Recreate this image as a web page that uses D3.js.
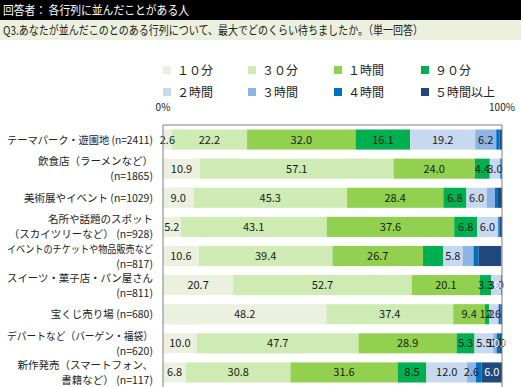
<!DOCTYPE html>
<html><head><meta charset="utf-8">
<script src="https://cdn.jsdelivr.net/npm/d3@7"></script>
<style>
body{margin:0;background:#fff;}
text{font-family:"Noto Sans CJK JP","Noto Sans",sans-serif;}
</style></head>
<body><svg id="c" width="521" height="387"></svg>
<script>
const title = "回答者： 各行列に並んだことがある人";
const subtitle = "Q3.あなたが並んだこのとのある行列について、最大でどのくらい待ちましたか。（単一回答）";
const categories = [
  ["テーマパーク・遊園地 (n=2411)"],
  ["飲食店（ラーメンなど）","(n=1865)"],
  ["美術展やイベント (n=1029)"],
  ["名所や話題のスポット","（スカイツリーなど） (n=928)"],
  ["イベントのチケットや物品販売など","(n=817)"],
  ["スイーツ・菓子店・パン屋さん","(n=811)"],
  ["宝くじ売り場 (n=680)"],
  ["デパートなど（バーゲン・福袋）","(n=620)"],
  ["新作発売（スマートフォン、","書籍など） (n=117)"]
];
const seriesNames = ["１０分","３０分","１時間","９０分","２時間","３時間","４時間","５時間以上"];
const m10  = [2.6, 10.9, 9.0, 5.2, 10.6, 20.7, 48.2, 10.0, 6.8];
const m30  = [22.2, 57.1, 45.3, 43.1, 39.4, 52.7, 37.4, 47.7, 30.8];
const h1   = [32.0, 24.0, 28.4, 37.6, 26.7, 20.1, 9.4, 28.9, 31.6];
const m90  = [16.1, 4.4, 6.8, 6.8, 5.9, 3.3, 1.2, 5.3, 8.5];
const h2   = [19.2, 3.0, 6.0, 6.0, 5.8, 3.0, 2.6, 5.5, 12.0];
const h3   = [6.2, 0.1, 2.4, 0.2, 3.2, 0.0, 0.3, 1.0, 2.6];
const h4   = [1.0, 0.4, 0.9, 0.4, 1.5, 0.0, 0.5, 1.0, 1.7];
const h5   = [0.7, 0.1, 1.2, 0.7, 6.7, 0.2, 0.4, 0.6, 6.0];
const hiddenLabels = ["0:6","0:7","1:5","1:6","1:7","2:5","2:6","2:7","3:5","3:6","3:7","4:3","4:5","4:6","4:7","6:5","6:6","6:7","8:6"];
const axisTicks = ["0%","100%"];
const colors = ["#ebf1de","#cdebb3","#92d050","#00b050","#c6d9f1","#8db4e2","#0070c0","#1f497d"];

const series = [m10,m30,h1,m90,h2,h3,h4,h5];
const svg = d3.select("#c");

function fit(sel, maxW){
  const n = sel.node();
  const w = n.getComputedTextLength();
  if (w > maxW) sel.attr("textLength", maxW).attr("lengthAdjust","spacingAndGlyphs");
}

// header
svg.append("rect").attr("x",0).attr("y",0).attr("width",521).attr("height",20).attr("fill","#000");
fit(svg.append("text").attr("x",3).attr("y",15).attr("fill","#fff").attr("font-size",12.5).text(title), 186);
svg.append("rect").attr("x",0).attr("y",20).attr("width",521).attr("height",20).attr("fill","#ebf1de");
fit(svg.append("text").attr("x",3).attr("y",35).attr("fill","#222").attr("font-size",12).text(subtitle), 420);

// legend
const legX = [163,248,334,421], legY = [70,92];
seriesNames.forEach((n,i)=>{
  const x = legX[i%4], y = legY[Math.floor(i/4)];
  svg.append("rect").attr("x",x).attr("y",y-4).attr("width",8).attr("height",8).attr("fill",colors[i]);
  svg.append("text").attr("x",x+14).attr("y",y+4.5).attr("font-size",12).attr("fill","#222").text(n);
});

const x = d3.scaleLinear().domain([0,100]).range([163,502]);
const y = d3.scaleBand().domain(d3.range(categories.length)).range([125,387]).paddingInner(0.31).paddingOuter(0.155);

// tick labels
svg.selectAll(".tick").data(axisTicks).join("text")
  .attr("x",(d,i)=>x(i*100)).attr("y",111).attr("text-anchor","middle")
  .attr("font-size",10).attr("fill","#222").text(d=>d);

// bars
const stacked = categories.map((c,r)=>{
  let acc=0;
  return series.map((s,k)=>{const v=s[r]; const o={r,k,v,x0:acc,x1:acc+v}; acc+=v; return o;});
});
const g = svg.append("g");
stacked.forEach(row=>{
  g.selectAll(null).data(row.filter(d=>d.v>0)).join("rect")
    .attr("x",d=>x(d.x0)).attr("y",d=>y(d.r)).attr("width",d=>x(d.x1)-x(d.x0))
    .attr("height",y.bandwidth()).attr("fill",d=>colors[d.k]);
});
stacked.forEach(row=>{
  g.selectAll(null).data(row.filter(d=>d.v>0 && !hiddenLabels.includes(d.r+":"+d.k))).join("text")
    .attr("x",d=>x((d.x0+d.x1)/2)).attr("y",d=>y(d.r)+y.bandwidth()/2+4)
    .attr("text-anchor","middle").attr("font-size",11)
    .attr("fill",d=>d.k===7?"#fff":"#1a1a1a").text(d=>d.v.toFixed(1));
});

// frame lines
svg.append("line").attr("x1",x(0)).attr("x2",x(100)).attr("y1",125).attr("y2",125).attr("stroke","#808080");
svg.append("line").attr("x1",x(0)).attr("x2",x(0)).attr("y1",125).attr("y2",387).attr("stroke","#808080");
svg.append("line").attr("x1",x(100)).attr("x2",x(100)).attr("y1",125).attr("y2",387).attr("stroke","#808080");

// category labels
categories.forEach((lines,r)=>{
  const cy = y(r)+y.bandwidth()/2;
  lines.forEach((t,j)=>{
    const off = lines.length===1?0:(j===0?-7.5:7.5);
    const tx = svg.append("text").attr("x",153).attr("y",cy+off+4).attr("text-anchor","end")
      .attr("font-size",10.5).attr("fill","#222").text(t);
    fit(tx, 146);
  });
});
</script></body></html>
